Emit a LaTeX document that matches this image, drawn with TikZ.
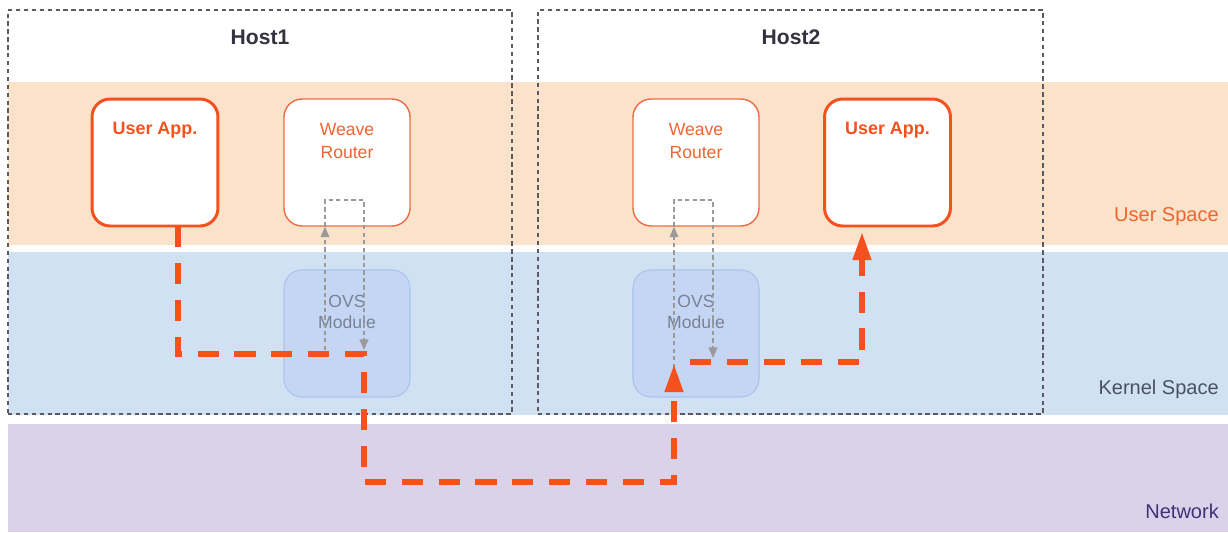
\documentclass[tikz,border=0pt]{standalone}
\usepackage{fontspec}
\setmainfont{Liberation Sans}
\usetikzlibrary{arrows.meta}
\definecolor{userband}{HTML}{FBE3CB}
\definecolor{kernband}{HTML}{CFE1F2}
\definecolor{netband}{HTML}{D9D2E8}
\definecolor{flow}{HTML}{F4511E}
\definecolor{boxline}{HTML}{EE6A45}
\definecolor{ovsfill}{HTML}{C4D6F4}
\definecolor{ovsline}{HTML}{ABC3EC}
\definecolor{ovstext}{HTML}{7A8296}
\definecolor{hosttext}{HTML}{33333F}
\definecolor{hostline}{HTML}{5A5A60}
\definecolor{loopgray}{HTML}{9A9A9A}
\definecolor{kerntext}{HTML}{4A5162}
\definecolor{nettext}{HTML}{3E327A}
\definecolor{usertext}{HTML}{F0652F}
\begin{document}
\begin{tikzpicture}[x=0.02cm,y=-0.02cm,
  hostbox/.style={draw=hostline, line width=0.9pt, dash pattern=on 2.5pt off 2pt, minimum width=#1},
  appbox/.style={draw=flow, line width=1.7pt, fill=white, rounded corners=0.36cm, minimum width=2.52cm, minimum height=2.54cm},
  routerbox/.style={draw=boxline, line width=0.8pt, fill=white, rounded corners=0.36cm, minimum width=2.52cm, minimum height=2.54cm},
  ovsbox/.style={draw=ovsline, line width=0.6pt, fill=ovsfill, rounded corners=0.36cm, minimum width=2.52cm, minimum height=2.54cm},
  apptext/.style={text=flow, font=\bfseries\fontsize{10.2}{12}\selectfont},
  routertext/.style={text=usertext, align=center, font=\fontsize{10}{13}\selectfont},
  ovslabel/.style={text=ovstext, align=center, font=\fontsize{10}{12}\selectfont},
  hosttitle/.style={text=hosttext, font=\bfseries\fontsize{12}{14}\selectfont},
  spacelabel/.style={anchor=east, font=\fontsize{11.4}{13}\selectfont},
  flowline/.style={draw=flow, line width=3.2pt, dash pattern=on 12pt off 9pt},
  flowtip/.style={-{Triangle[width=10pt,length=16pt]}},
  loopline/.style={draw=loopgray, line width=0.6pt, dash pattern=on 2.5pt off 1.8pt},
  looptip/.style={-{Triangle[width=5pt,length=6pt]}}
]
\useasboundingbox (0,0) rectangle (1228,532);
% bands
\fill[userband] (8,82) rectangle (1228,245);
\fill[kernband] (8,252) rectangle (1228,415);
\fill[netband] (8,424) rectangle (1228,532);
% hosts
\node[hostbox=10.08cm, minimum height=8.08cm] (host1) at (260,212) {};
\node[hostbox=10.10cm, minimum height=8.08cm] (host2) at (790.5,212) {};
\node[hosttitle] (h1t) at (260,37) {Host1};
\node[hosttitle] (h2t) at (791,37) {Host2};
% boxes
\node[appbox] (ua1) at (155,162.5) {};
\node[routerbox] (wr1) at (347,162.5) {};
\node[routerbox] (wr2) at (696,162.5) {};
\node[appbox] (ua2) at (887.5,162.5) {};
\node[ovsbox] (ovs1) at (347,333.5) {};
\node[ovsbox] (ovs2) at (696,333.5) {};
\node[apptext] (ua1t) at (155,130) {User App.};
\node[apptext] (ua2t) at (887.5,130) {User App.};
\node[routertext] (wr1t) at (347,141) {Weave\\Router};
\node[routertext] (wr2t) at (696,141) {Weave\\Router};
\node[ovslabel] (ovs1t) at (347,312) {OVS\\Module};
\node[ovslabel] (ovs2t) at (696,312) {OVS\\Module};
% side labels
\node[spacelabel, text=usertext] (uslab) at (1225,217) {User Space};
\node[spacelabel, text=kerntext] (kslab) at (1225,389) {Kernel Space};
\node[spacelabel, text=nettext] (nlab) at (1225,511) {Network};
% gray loops host1
\coordinate (l1a) at (325,350);
\coordinate (l1b) at (325,200);
\coordinate (l1c) at (364,200);
\coordinate (l1d) at (364,350);
\draw[loopline, looptip] (l1a) -- (l1a |- wr1.south);
\draw[loopline, looptip] (l1a |- wr1.south) -- (l1b) -- (l1c) -- (l1d);
% gray loops host2
\coordinate (l2a) at (674,368);
\coordinate (l2b) at (674,200);
\coordinate (l2c) at (713,200);
\coordinate (l2d) at (713,358);
\draw[loopline, looptip] (l2a) -- (l2a |- wr2.south);
\draw[loopline, looptip] (l2a |- wr2.south) -- (l2b) -- (l2c) -- (l2d);
% orange flow
\coordinate (f1) at (178,226);
\coordinate (f2) at (178,354);
\coordinate (f3) at (364,482);
\coordinate (f4) at (674,364);
\draw[flowline, flowtip] (f1) -- (f2) -| (f3) -| (f4);
\coordinate (g1) at (690,362);
\coordinate (g2) at (862,232);
\draw[flowline, flowtip] (g1) -| (g2);
\end{tikzpicture}
\end{document}
